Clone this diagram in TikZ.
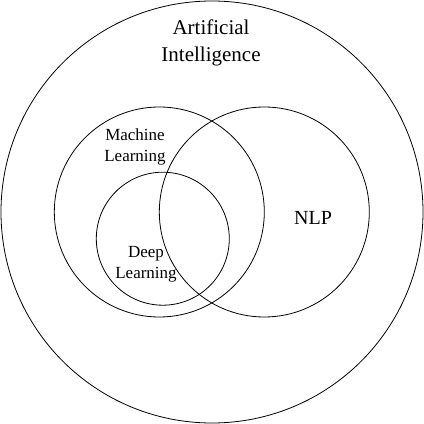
\documentclass[tikz,border=0pt]{standalone}
\usepackage{fontspec}
\setmainfont{Liberation Serif}
\usepackage{tikz}
\usetikzlibrary{shapes}
\tikzstyle{ring}=[draw, circle, inner sep=0pt, line width=0.8pt]
\tikzstyle{lbl}=[align=center, inner sep=0pt]
\newcommand{\lblfont}[2]{\fontsize{#1}{#2}\selectfont}

\begin{document}
\begin{tikzpicture}[x=1pt,y=1pt]
	\useasboundingbox (0,0) rectangle (424,424);
	\node[ring, minimum size=422pt] (ai) at (212,212) {};
	\node[ring, minimum size=210pt] (ml) at (159.3,212) {};
	\node[ring, minimum size=210pt] (nlp) at (264.3,212) {};
	\node[ring, minimum size=133pt] (dl) at (162.8,185.3) {};
	\node[lbl, font=\lblfont{21}{27.5}] (ailbl) at (211,381) {Artificial\\Intelligence};
	\node[lbl, font=\lblfont{17}{21}] (mllbl) at (135,277.5) {Machine\\Learning};
	\node[lbl, font=\lblfont{17}{21}] (dllbl) at (146,159.5) {Deep\\Learning};
	\node[lbl, font=\lblfont{20}{24}] (nlplbl) at (313,206) {NLP};
\end{tikzpicture}
\end{document}
